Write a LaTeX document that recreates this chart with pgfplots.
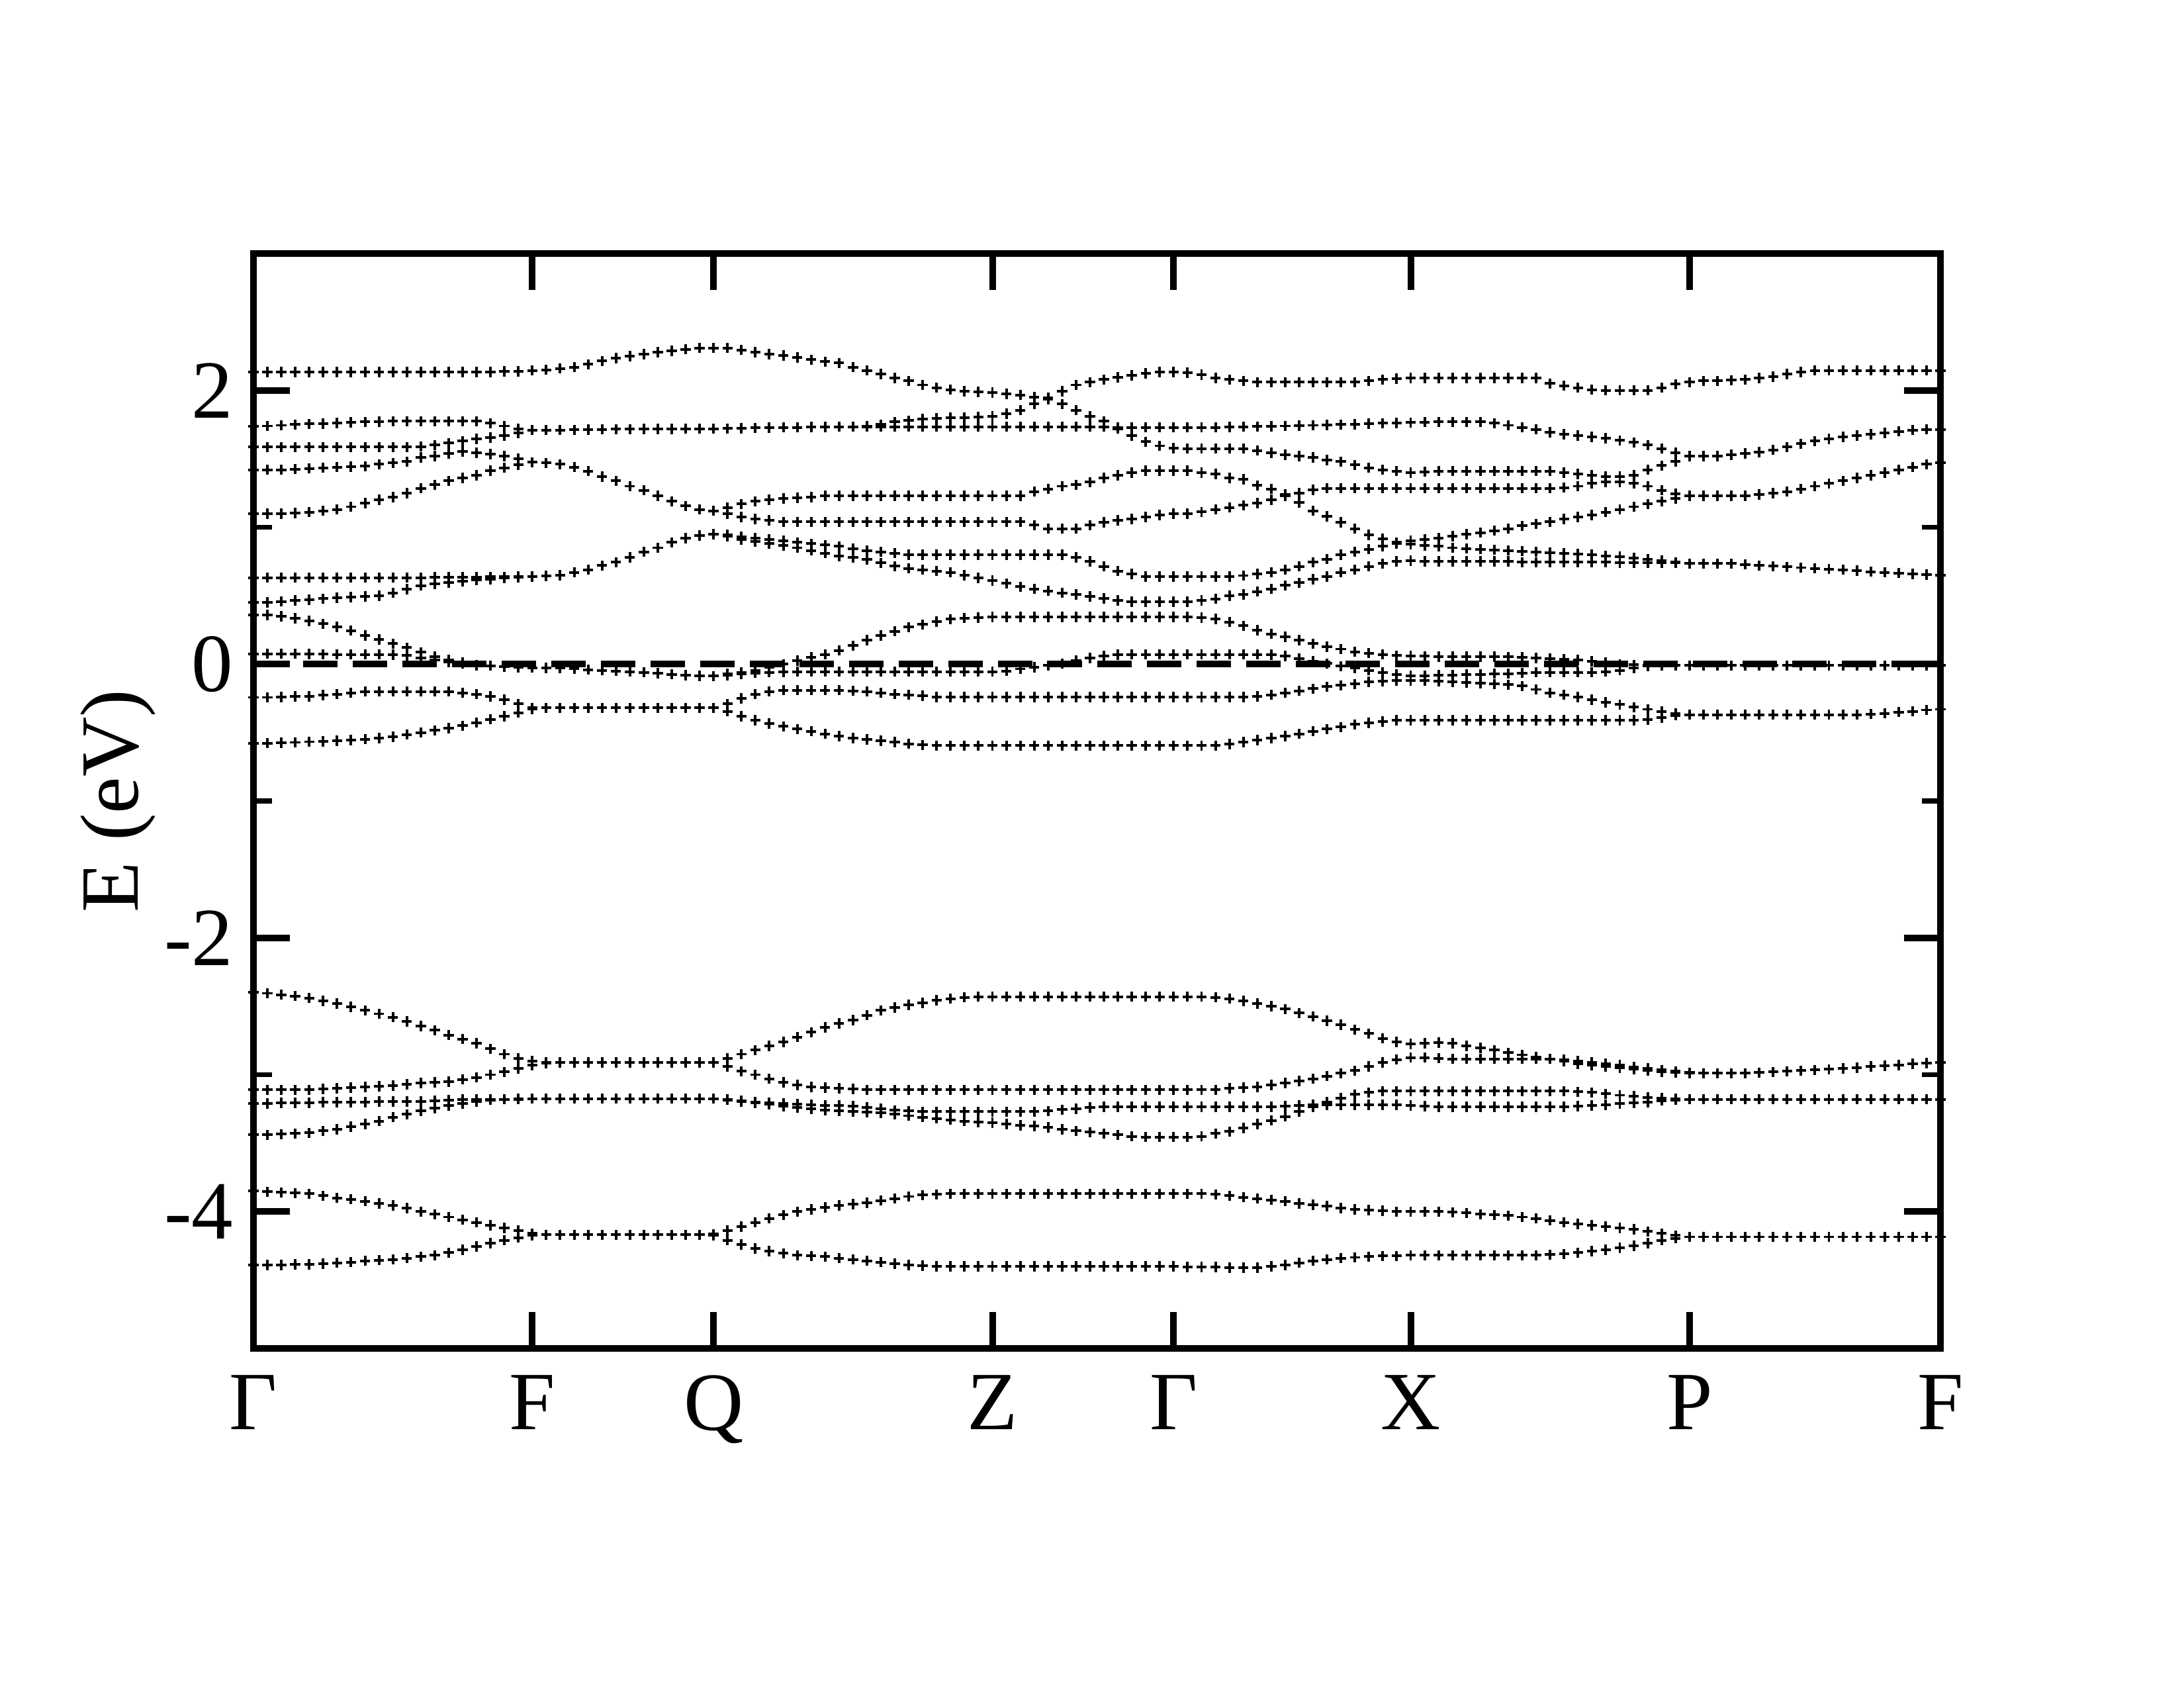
\documentclass[border=0pt]{standalone}
\usepackage{fontspec}
\setmainfont{Liberation Serif}
\usepackage{pgfplots}
\pgfplotsset{compat=1.18}
\newcommand{\bnd}[1]{\addplot[band] table[x expr=\coordindex, y index=0, header=false, row sep=\\] {#1};}
\begin{document}
\begin{tikzpicture}
\useasboundingbox (-91.92pt,-123.12pt) rectangle (700.08pt,488.88pt);
\begin{axis}[
  at={(0,0)}, anchor=south west,
  scale only axis, width=611.76pt, height=396.96pt,
  xmin=0, xmax=121, ymin=-5, ymax=3,
  xtick={0,20,33,53,66,83,103,121},
  xticklabels={Γ,F,Q,Z,Γ,X,P,F},
  ytick={-4,-2,0,2}, yticklabels={-4,-2,0,2},
  minor ytick={-3,-1,1},
  tick align=inside, tick pos=both,
  major tick length=13.2pt, minor tick length=6.7pt,
  every major tick/.append style={line width=2.4pt, black},
  every minor tick/.append style={line width=1.9pt, black},
  axis line style={line width=2.2pt},
  ticklabel style={font=\fontsize{30}{36}\selectfont},
  yticklabel style={inner xsep=0pt, xshift=-7.2pt},
  xticklabel style={inner ysep=0pt, yshift=-9.6pt},
  ylabel={E (eV)},
  ylabel style={font=\fontsize{30}{36}\selectfont, at={(axis description cs:-0.0801,0.5)}, anchor=center},
  band/.style={only marks, mark=+, mark size=1.85pt, line width=0.95pt, black},
]
% L1
\bnd{-4.39\\-4.39\\-4.39\\-4.385\\-4.385\\-4.38\\-4.375\\-4.37\\-4.36\\-4.355\\
-4.35\\-4.34\\-4.33\\-4.32\\-4.30\\-4.28\\-4.255\\-4.23\\-4.21\\-4.19\\
-4.175\\-4.17\\-4.17\\-4.17\\-4.17\\-4.17\\-4.17\\-4.17\\-4.17\\-4.17\\
-4.17\\-4.17\\-4.17\\-4.175\\-4.21\\-4.24\\-4.27\\-4.29\\-4.305\\-4.32\\
-4.325\\-4.33\\-4.34\\-4.35\\-4.36\\-4.37\\-4.38\\-4.39\\-4.395\\-4.40\\
-4.40\\-4.40\\-4.40\\-4.40\\-4.40\\-4.40\\-4.40\\-4.40\\-4.40\\-4.40\\
-4.40\\-4.40\\-4.40\\-4.40\\-4.40\\-4.40\\-4.40\\-4.405\\-4.405\\-4.405\\
-4.41\\-4.41\\-4.41\\-4.40\\-4.39\\-4.375\\-4.36\\-4.35\\-4.34\\-4.335\\
-4.33\\-4.325\\-4.325\\-4.32\\-4.32\\-4.32\\-4.32\\-4.32\\-4.32\\-4.32\\
-4.32\\-4.32\\-4.32\\-4.315\\-4.31\\-4.30\\-4.29\\-4.28\\-4.265\\-4.25\\
-4.23\\-4.21\\-4.195\\-4.185\\-4.185\\-4.185\\-4.185\\-4.185\\-4.185\\-4.185\\
-4.185\\-4.185\\-4.185\\-4.185\\-4.185\\-4.185\\-4.185\\-4.185\\-4.185\\-4.185\\
-4.185\\-4.185\\}
% L2
\bnd{-3.85\\-3.855\\-3.86\\-3.865\\-3.87\\-3.885\\-3.90\\-3.91\\-3.925\\-3.94\\
-3.955\\-3.975\\-4.00\\-4.02\\-4.04\\-4.06\\-4.08\\-4.10\\-4.12\\-4.14\\
-4.16\\-4.17\\-4.17\\-4.17\\-4.17\\-4.17\\-4.17\\-4.17\\-4.17\\-4.17\\
-4.17\\-4.17\\-4.17\\-4.165\\-4.14\\-4.11\\-4.08\\-4.05\\-4.025\\-4.00\\
-3.985\\-3.97\\-3.955\\-3.945\\-3.935\\-3.92\\-3.905\\-3.89\\-3.88\\-3.875\\
-3.87\\-3.87\\-3.87\\-3.87\\-3.87\\-3.87\\-3.87\\-3.87\\-3.87\\-3.87\\
-3.87\\-3.87\\-3.87\\-3.87\\-3.87\\-3.87\\-3.87\\-3.87\\-3.87\\-3.875\\
-3.885\\-3.895\\-3.905\\-3.915\\-3.925\\-3.94\\-3.95\\-3.96\\-3.975\\-3.985\\
-3.99\\-3.995\\-4.00\\-4.00\\-4.00\\-4.00\\-4.005\\-4.01\\-4.02\\-4.025\\
-4.03\\-4.04\\-4.05\\-4.065\\-4.08\\-4.09\\-4.10\\-4.11\\-4.12\\-4.13\\
-4.145\\-4.16\\-4.175\\-4.185\\-4.185\\-4.185\\-4.185\\-4.185\\-4.185\\-4.185\\
-4.185\\-4.185\\-4.185\\-4.185\\-4.185\\-4.185\\-4.185\\-4.185\\-4.185\\-4.185\\
-4.185\\-4.185\\}
% M1
\bnd{-3.44\\-3.44\\-3.435\\-3.43\\-3.425\\-3.41\\-3.40\\-3.38\\-3.36\\-3.34\\
-3.31\\-3.29\\-3.265\\-3.245\\-3.225\\-3.21\\-3.195\\-3.185\\-3.18\\-3.18\\
-3.175\\-3.175\\-3.175\\-3.175\\-3.175\\-3.175\\-3.175\\-3.175\\-3.175\\-3.175\\
-3.175\\-3.175\\-3.175\\-3.175\\-3.185\\-3.195\\-3.205\\-3.215\\-3.23\\-3.24\\
-3.25\\-3.26\\-3.265\\-3.27\\-3.275\\-3.28\\-3.29\\-3.30\\-3.31\\-3.32\\
-3.33\\-3.34\\-3.345\\-3.35\\-3.36\\-3.37\\-3.375\\-3.385\\-3.40\\-3.41\\
-3.42\\-3.43\\-3.44\\-3.45\\-3.455\\-3.455\\-3.455\\-3.455\\-3.45\\-3.43\\
-3.415\\-3.39\\-3.36\\-3.335\\-3.305\\-3.27\\-3.235\\-3.20\\-3.17\\-3.145\\
-3.13\\-3.12\\-3.12\\-3.12\\-3.12\\-3.12\\-3.12\\-3.12\\-3.12\\-3.12\\
-3.12\\-3.12\\-3.12\\-3.12\\-3.12\\-3.125\\-3.13\\-3.14\\-3.15\\-3.155\\
-3.165\\-3.17\\-3.175\\-3.18\\-3.18\\-3.18\\-3.18\\-3.18\\-3.18\\-3.18\\
-3.18\\-3.18\\-3.18\\-3.18\\-3.18\\-3.18\\-3.18\\-3.18\\-3.18\\-3.18\\
-3.18\\-3.18\\}
% M2
\bnd{-3.21\\-3.21\\-3.205\\-3.205\\-3.205\\-3.20\\-3.20\\-3.20\\-3.20\\-3.195\\
-3.195\\-3.195\\-3.195\\-3.19\\-3.185\\-3.18\\-3.18\\-3.18\\-3.18\\-3.175\\
-3.175\\-3.175\\-3.175\\-3.175\\-3.175\\-3.175\\-3.175\\-3.175\\-3.175\\-3.175\\
-3.175\\-3.175\\-3.175\\-3.175\\-3.18\\-3.19\\-3.20\\-3.205\\-3.21\\-3.215\\
-3.22\\-3.225\\-3.225\\-3.23\\-3.24\\-3.25\\-3.26\\-3.265\\-3.27\\-3.27\\
-3.27\\-3.27\\-3.27\\-3.27\\-3.27\\-3.27\\-3.27\\-3.265\\-3.255\\-3.25\\
-3.24\\-3.235\\-3.235\\-3.235\\-3.235\\-3.235\\-3.235\\-3.235\\-3.235\\-3.235\\
-3.235\\-3.235\\-3.235\\-3.235\\-3.23\\-3.225\\-3.22\\-3.22\\-3.22\\-3.22\\
-3.22\\-3.22\\-3.22\\-3.225\\-3.23\\-3.235\\-3.235\\-3.235\\-3.235\\-3.235\\
-3.235\\-3.235\\-3.235\\-3.235\\-3.235\\-3.23\\-3.225\\-3.22\\-3.21\\-3.205\\
-3.20\\-3.19\\-3.185\\-3.18\\-3.18\\-3.18\\-3.18\\-3.18\\-3.18\\-3.18\\
-3.18\\-3.18\\-3.18\\-3.18\\-3.18\\-3.18\\-3.18\\-3.18\\-3.18\\-3.18\\
-3.18\\-3.18\\}
% M3
\bnd{-3.11\\-3.11\\-3.11\\-3.11\\-3.11\\-3.105\\-3.10\\-3.095\\-3.09\\-3.085\\
-3.08\\-3.07\\-3.06\\-3.055\\-3.05\\-3.035\\-3.02\\-3.00\\-2.98\\-2.955\\
-2.93\\-2.915\\-2.91\\-2.91\\-2.91\\-2.91\\-2.91\\-2.91\\-2.91\\-2.91\\
-2.91\\-2.91\\-2.91\\-2.91\\-2.94\\-2.975\\-3.00\\-3.03\\-3.055\\-3.075\\
-3.09\\-3.095\\-3.10\\-3.105\\-3.11\\-3.11\\-3.11\\-3.11\\-3.11\\-3.11\\
-3.11\\-3.11\\-3.11\\-3.11\\-3.11\\-3.11\\-3.11\\-3.11\\-3.11\\-3.11\\
-3.11\\-3.11\\-3.11\\-3.11\\-3.11\\-3.11\\-3.11\\-3.11\\-3.11\\-3.11\\
-3.10\\-3.095\\-3.09\\-3.075\\-3.06\\-3.045\\-3.03\\-3.01\\-2.99\\-2.97\\
-2.94\\-2.91\\-2.89\\-2.875\\-2.875\\-2.88\\-2.885\\-2.885\\-2.885\\-2.885\\
-2.885\\-2.885\\-2.885\\-2.885\\-2.89\\-2.90\\-2.91\\-2.92\\-2.93\\-2.945\\
-2.955\\-2.965\\-2.975\\-2.985\\-2.99\\-2.99\\-2.99\\-2.99\\-2.985\\-2.98\\
-2.975\\-2.97\\-2.965\\-2.96\\-2.955\\-2.95\\-2.94\\-2.935\\-2.93\\-2.92\\
-2.915\\-2.91\\}
% M4
\bnd{-2.40\\-2.405\\-2.415\\-2.425\\-2.44\\-2.46\\-2.48\\-2.505\\-2.53\\-2.555\\
-2.58\\-2.61\\-2.645\\-2.675\\-2.71\\-2.74\\-2.77\\-2.81\\-2.85\\-2.88\\
-2.90\\-2.91\\-2.91\\-2.91\\-2.91\\-2.91\\-2.91\\-2.91\\-2.91\\-2.91\\
-2.91\\-2.91\\-2.91\\-2.91\\-2.88\\-2.85\\-2.82\\-2.79\\-2.76\\-2.725\\
-2.69\\-2.655\\-2.625\\-2.60\\-2.565\\-2.53\\-2.51\\-2.49\\-2.475\\-2.455\\
-2.445\\-2.435\\-2.43\\-2.43\\-2.43\\-2.43\\-2.43\\-2.43\\-2.43\\-2.43\\
-2.43\\-2.43\\-2.43\\-2.43\\-2.43\\-2.43\\-2.43\\-2.43\\-2.43\\-2.435\\
-2.445\\-2.46\\-2.48\\-2.50\\-2.52\\-2.55\\-2.575\\-2.605\\-2.635\\-2.67\\
-2.70\\-2.735\\-2.76\\-2.775\\-2.77\\-2.765\\-2.77\\-2.79\\-2.805\\-2.82\\
-2.84\\-2.855\\-2.87\\-2.885\\-2.90\\-2.92\\-2.93\\-2.94\\-2.95\\-2.96\\
-2.97\\-2.98\\-2.985\\-2.99\\-2.99\\-2.99\\-2.99\\-2.99\\-2.985\\-2.98\\
-2.975\\-2.97\\-2.965\\-2.96\\-2.955\\-2.95\\-2.94\\-2.935\\-2.93\\-2.92\\
-2.915\\-2.91\\}
% j
\bnd{-0.58\\-0.577\\-0.575\\-0.572\\-0.567\\-0.564\\-0.56\\-0.556\\-0.548\\-0.54\\
-0.53\\-0.515\\-0.50\\-0.484\\-0.468\\-0.45\\-0.428\\-0.403\\-0.38\\-0.355\\
-0.33\\-0.32\\-0.32\\-0.32\\-0.32\\-0.32\\-0.32\\-0.32\\-0.32\\-0.32\\
-0.32\\-0.32\\-0.32\\-0.32\\-0.345\\-0.38\\-0.41\\-0.435\\-0.455\\-0.475\\
-0.49\\-0.51\\-0.525\\-0.54\\-0.55\\-0.56\\-0.57\\-0.583\\-0.59\\-0.595\\
-0.595\\-0.595\\-0.595\\-0.595\\-0.595\\-0.595\\-0.595\\-0.595\\-0.595\\-0.595\\
-0.595\\-0.595\\-0.595\\-0.595\\-0.595\\-0.595\\-0.595\\-0.595\\-0.595\\-0.595\\
-0.585\\-0.57\\-0.556\\-0.54\\-0.525\\-0.51\\-0.49\\-0.475\\-0.46\\-0.44\\
-0.43\\-0.42\\-0.41\\-0.41\\-0.41\\-0.41\\-0.41\\-0.41\\-0.41\\-0.41\\
-0.41\\-0.41\\-0.41\\-0.41\\-0.41\\-0.41\\-0.41\\-0.41\\-0.41\\-0.41\\
-0.405\\-0.39\\-0.375\\-0.37\\-0.37\\-0.37\\-0.37\\-0.37\\-0.37\\-0.37\\
-0.37\\-0.37\\-0.37\\-0.37\\-0.37\\-0.37\\-0.365\\-0.36\\-0.35\\-0.345\\
-0.335\\-0.33\\}
% i
\bnd{-0.243\\-0.243\\-0.24\\-0.235\\-0.235\\-0.227\\-0.22\\-0.21\\-0.20\\-0.20\\
-0.20\\-0.20\\-0.20\\-0.20\\-0.20\\-0.21\\-0.22\\-0.235\\-0.26\\-0.29\\
-0.32\\-0.32\\-0.32\\-0.32\\-0.32\\-0.32\\-0.32\\-0.32\\-0.32\\-0.32\\
-0.32\\-0.32\\-0.32\\-0.32\\-0.29\\-0.25\\-0.22\\-0.20\\-0.19\\-0.19\\
-0.19\\-0.19\\-0.19\\-0.195\\-0.20\\-0.21\\-0.22\\-0.225\\-0.23\\-0.24\\
-0.24\\-0.24\\-0.24\\-0.24\\-0.24\\-0.24\\-0.24\\-0.24\\-0.24\\-0.24\\
-0.24\\-0.24\\-0.24\\-0.24\\-0.24\\-0.24\\-0.24\\-0.24\\-0.24\\-0.24\\
-0.24\\-0.24\\-0.235\\-0.225\\-0.21\\-0.195\\-0.18\\-0.165\\-0.155\\-0.146\\
-0.13\\-0.125\\-0.12\\-0.12\\-0.12\\-0.125\\-0.13\\-0.135\\-0.14\\-0.145\\
-0.15\\-0.16\\-0.185\\-0.21\\-0.225\\-0.24\\-0.26\\-0.28\\-0.295\\-0.315\\
-0.33\\-0.345\\-0.36\\-0.37\\-0.37\\-0.37\\-0.37\\-0.37\\-0.37\\-0.37\\
-0.37\\-0.37\\-0.37\\-0.37\\-0.37\\-0.37\\-0.365\\-0.36\\-0.35\\-0.345\\
-0.335\\-0.33\\}
% h
\bnd{0.075\\0.075\\0.075\\0.075\\0.073\\0.072\\0.071\\0.07\\0.07\\0.07\\
0.068\\0.062\\0.045\\0.03\\0.015\\0.005\\-0.008\\-0.012\\-0.016\\-0.02\\
-0.026\\-0.028\\-0.03\\-0.034\\-0.04\\-0.045\\-0.05\\-0.055\\-0.06\\-0.067\\
-0.075\\-0.08\\-0.085\\-0.088\\-0.08\\-0.072\\-0.065\\-0.06\\-0.057\\-0.055\\
-0.055\\-0.055\\-0.055\\-0.055\\-0.055\\-0.055\\-0.055\\-0.055\\-0.055\\-0.055\\
-0.055\\-0.055\\-0.055\\-0.055\\-0.05\\-0.035\\-0.022\\-0.01\\0.005\\0.025\\
0.045\\0.06\\0.068\\0.07\\0.07\\0.07\\0.07\\0.07\\0.07\\0.07\\
0.07\\0.07\\0.07\\0.068\\0.06\\0.04\\0.02\\0.005\\-0.015\\-0.03\\
-0.045\\-0.06\\-0.075\\-0.085\\-0.085\\-0.08\\-0.08\\-0.075\\-0.075\\-0.07\\
-0.07\\-0.065\\-0.06\\-0.06\\-0.06\\-0.06\\-0.06\\-0.055\\-0.045\\-0.03\\
-0.015\\-0.01\\-0.01\\-0.01\\-0.01\\-0.01\\-0.01\\-0.01\\-0.01\\-0.01\\
-0.01\\-0.01\\-0.01\\-0.01\\-0.01\\-0.01\\-0.01\\-0.01\\-0.01\\-0.01\\
-0.01\\-0.01\\}
% g
\bnd{0.36\\0.36\\0.35\\0.335\\0.315\\0.295\\0.272\\0.245\\0.21\\0.18\\
0.15\\0.12\\0.087\\0.055\\0.03\\0.01\\-0.005\\-0.012\\-0.018\\-0.022\\
-0.026\\-0.028\\-0.03\\-0.034\\-0.04\\-0.045\\-0.05\\-0.055\\-0.06\\-0.067\\
-0.075\\-0.08\\-0.085\\-0.088\\-0.07\\-0.06\\-0.045\\-0.025\\0.0\\0.025\\
0.05\\0.07\\0.10\\0.135\\0.175\\0.21\\0.24\\0.27\\0.29\\0.31\\
0.328\\0.336\\0.34\\0.345\\0.345\\0.345\\0.345\\0.345\\0.345\\0.345\\
0.345\\0.345\\0.345\\0.345\\0.345\\0.345\\0.345\\0.345\\0.34\\0.33\\
0.307\\0.28\\0.247\\0.22\\0.20\\0.175\\0.15\\0.127\\0.11\\0.09\\
0.08\\0.07\\0.063\\0.06\\0.057\\0.055\\0.055\\0.055\\0.055\\0.055\\
0.053\\0.05\\0.045\\0.04\\0.035\\0.03\\0.02\\0.01\\0.0\\-0.005\\
-0.01\\-0.01\\-0.01\\-0.01\\-0.01\\-0.01\\-0.01\\-0.01\\-0.01\\-0.01\\
-0.01\\-0.01\\-0.01\\-0.01\\-0.01\\-0.01\\-0.01\\-0.01\\-0.01\\-0.01\\
-0.01\\-0.01\\}
% f
\bnd{0.45\\0.452\\0.458\\0.465\\0.47\\0.478\\0.485\\0.49\\0.495\\0.50\\
0.52\\0.548\\0.574\\0.585\\0.595\\0.605\\0.615\\0.62\\0.628\\0.635\\
0.64\\0.645\\0.65\\0.67\\0.69\\0.72\\0.745\\0.78\\0.82\\0.85\\
0.89\\0.92\\0.94\\0.95\\0.935\\0.91\\0.895\\0.88\\0.865\\0.85\\
0.83\\0.81\\0.79\\0.78\\0.765\\0.74\\0.715\\0.70\\0.69\\0.68\\
0.67\\0.65\\0.63\\0.61\\0.59\\0.565\\0.55\\0.535\\0.52\\0.51\\
0.495\\0.48\\0.466\\0.456\\0.456\\0.456\\0.456\\0.456\\0.466\\0.477\\
0.50\\0.51\\0.53\\0.55\\0.575\\0.595\\0.62\\0.64\\0.67\\0.69\\
0.714\\0.735\\0.75\\0.755\\0.75\\0.75\\0.75\\0.75\\0.75\\0.75\\
0.75\\0.745\\0.745\\0.745\\0.745\\0.745\\0.745\\0.745\\0.74\\0.74\\
0.74\\0.74\\0.74\\0.735\\0.735\\0.735\\0.735\\0.728\\0.72\\0.715\\
0.71\\0.705\\0.70\\0.695\\0.69\\0.683\\0.675\\0.67\\0.665\\0.66\\
0.655\\0.65\\}
% e
\bnd{0.632\\0.632\\0.632\\0.632\\0.632\\0.632\\0.632\\0.632\\0.632\\0.632\\
0.632\\0.632\\0.632\\0.634\\0.635\\0.636\\0.637\\0.638\\0.638\\0.64\\
0.64\\0.645\\0.65\\0.67\\0.69\\0.72\\0.745\\0.78\\0.82\\0.85\\
0.89\\0.92\\0.94\\0.95\\0.945\\0.93\\0.92\\0.91\\0.90\\0.89\\
0.88\\0.87\\0.86\\0.845\\0.83\\0.82\\0.81\\0.80\\0.80\\0.80\\
0.80\\0.80\\0.80\\0.80\\0.80\\0.80\\0.80\\0.80\\0.80\\0.78\\
0.75\\0.714\\0.68\\0.66\\0.64\\0.64\\0.64\\0.64\\0.64\\0.64\\
0.64\\0.647\\0.66\\0.67\\0.69\\0.714\\0.745\\0.767\\0.80\\0.82\\
0.84\\0.86\\0.88\\0.90\\0.91\\0.92\\0.935\\0.95\\0.96\\0.975\\
0.99\\1.01\\1.025\\1.04\\1.06\\1.075\\1.09\\1.11\\1.13\\1.15\\
1.17\\1.19\\1.21\\1.23\\1.23\\1.23\\1.23\\1.23\\1.24\\1.25\\
1.26\\1.28\\1.30\\1.32\\1.34\\1.36\\1.38\\1.40\\1.42\\1.44\\
1.46\\1.47\\}
% d
\bnd{1.10\\1.10\\1.10\\1.105\\1.11\\1.12\\1.13\\1.15\\1.176\\1.20\\
1.22\\1.25\\1.285\\1.31\\1.34\\1.36\\1.38\\1.413\\1.435\\1.456\\
1.475\\1.47\\1.46\\1.44\\1.41\\1.37\\1.34\\1.30\\1.27\\1.23\\
1.19\\1.155\\1.13\\1.12\\1.10\\1.075\\1.06\\1.05\\1.04\\1.04\\
1.04\\1.04\\1.04\\1.04\\1.04\\1.04\\1.04\\1.04\\1.04\\1.04\\
1.04\\1.04\\1.04\\1.04\\1.04\\1.04\\1.015\\0.99\\0.99\\0.99\\
1.015\\1.037\\1.05\\1.06\\1.075\\1.09\\1.10\\1.10\\1.112\\1.13\\
1.145\\1.16\\1.177\\1.20\\1.23\\1.25\\1.274\\1.285\\1.285\\1.285\\
1.285\\1.285\\1.285\\1.285\\1.285\\1.285\\1.285\\1.285\\1.285\\1.285\\
1.285\\1.285\\1.285\\1.285\\1.29\\1.30\\1.32\\1.33\\1.33\\1.32\\
1.30\\1.27\\1.245\\1.23\\1.23\\1.23\\1.23\\1.23\\1.24\\1.25\\
1.26\\1.28\\1.30\\1.32\\1.34\\1.36\\1.38\\1.40\\1.42\\1.44\\
1.46\\1.47\\}
% c
\bnd{1.42\\1.42\\1.42\\1.425\\1.43\\1.435\\1.44\\1.443\\1.446\\1.46\\
1.47\\1.48\\1.51\\1.52\\1.54\\1.553\\1.545\\1.535\\1.52\\1.50\\
1.475\\1.47\\1.46\\1.44\\1.41\\1.37\\1.34\\1.30\\1.27\\1.23\\
1.19\\1.155\\1.13\\1.12\\1.145\\1.17\\1.19\\1.20\\1.21\\1.215\\
1.22\\1.23\\1.23\\1.23\\1.23\\1.23\\1.23\\1.23\\1.23\\1.23\\
1.23\\1.23\\1.23\\1.23\\1.23\\1.23\\1.26\\1.28\\1.30\\1.31\\
1.33\\1.36\\1.38\\1.40\\1.413\\1.413\\1.413\\1.413\\1.40\\1.39\\
1.36\\1.35\\1.306\\1.28\\1.24\\1.18\\1.12\\1.08\\1.037\\0.99\\
0.945\\0.915\\0.89\\0.875\\0.865\\0.86\\0.85\\0.845\\0.84\\0.835\\
0.83\\0.825\\0.82\\0.815\\0.81\\0.805\\0.80\\0.79\\0.785\\0.775\\
0.765\\0.755\\0.745\\0.735\\0.735\\0.735\\0.735\\0.728\\0.72\\0.715\\
0.71\\0.705\\0.70\\0.695\\0.69\\0.683\\0.675\\0.67\\0.665\\0.66\\
0.655\\0.65\\}
% a
\bnd{1.736\\1.74\\1.745\\1.75\\1.755\\1.758\\1.762\\1.766\\1.77\\1.772\\
1.775\\1.775\\1.775\\1.775\\1.775\\1.775\\1.775\\1.76\\1.74\\1.72\\
1.71\\1.71\\1.71\\1.712\\1.714\\1.715\\1.716\\1.717\\1.718\\1.718\\
1.719\\1.72\\1.72\\1.72\\1.722\\1.724\\1.726\\1.728\\1.73\\1.73\\
1.732\\1.733\\1.734\\1.735\\1.735\\1.735\\1.735\\1.735\\1.735\\1.735\\
1.735\\1.735\\1.735\\1.735\\1.735\\1.735\\1.735\\1.735\\1.735\\1.735\\
1.735\\1.735\\1.73\\1.73\\1.73\\1.73\\1.73\\1.73\\1.73\\1.73\\
1.732\\1.734\\1.736\\1.738\\1.74\\1.742\\1.745\\1.748\\1.75\\1.753\\
1.756\\1.76\\1.762\\1.765\\1.768\\1.77\\1.77\\1.77\\1.77\\1.76\\
1.745\\1.73\\1.715\\1.695\\1.68\\1.67\\1.66\\1.65\\1.635\\1.62\\
1.60\\1.575\\1.545\\1.52\\1.52\\1.52\\1.53\\1.54\\1.55\\1.565\\
1.586\\1.61\\1.63\\1.645\\1.66\\1.67\\1.68\\1.69\\1.70\\1.71\\
1.715\\1.715\\}
% b
\bnd{1.586\\1.586\\1.586\\1.586\\1.586\\1.586\\1.586\\1.586\\1.586\\1.586\\
1.586\\1.586\\1.59\\1.60\\1.615\\1.63\\1.645\\1.655\\1.67\\1.69\\
1.71\\1.71\\1.71\\1.712\\1.714\\1.715\\1.716\\1.717\\1.718\\1.718\\
1.719\\1.72\\1.72\\1.72\\1.722\\1.724\\1.726\\1.728\\1.73\\1.73\\
1.732\\1.733\\1.734\\1.735\\1.74\\1.75\\1.77\\1.78\\1.79\\1.795\\
1.80\\1.80\\1.805\\1.81\\1.83\\1.855\\1.90\\1.945\\1.995\\2.04\\
2.06\\2.08\\2.095\\2.11\\2.125\\2.135\\2.135\\2.13\\2.115\\2.09\\
2.08\\2.07\\2.06\\2.06\\2.06\\2.06\\2.06\\2.06\\2.06\\2.06\\
2.07\\2.08\\2.085\\2.09\\2.09\\2.09\\2.09\\2.09\\2.09\\2.09\\
2.09\\2.09\\2.09\\2.05\\2.035\\2.02\\2.005\\2.0\\2.0\\2.0\\
2.0\\2.02\\2.045\\2.06\\2.07\\2.07\\2.075\\2.08\\2.09\\2.10\\
2.12\\2.135\\2.145\\2.145\\2.145\\2.145\\2.145\\2.145\\2.145\\2.145\\
2.145\\2.145\\}
% T
\bnd{2.135\\2.135\\2.135\\2.135\\2.135\\2.135\\2.135\\2.135\\2.135\\2.135\\
2.135\\2.135\\2.135\\2.135\\2.135\\2.135\\2.135\\2.135\\2.14\\2.14\\
2.145\\2.15\\2.16\\2.17\\2.19\\2.215\\2.235\\2.25\\2.265\\2.28\\
2.29\\2.30\\2.31\\2.31\\2.31\\2.295\\2.28\\2.265\\2.255\\2.24\\
2.225\\2.21\\2.20\\2.17\\2.145\\2.12\\2.09\\2.07\\2.04\\2.02\\
2.005\\1.995\\1.99\\1.984\\1.975\\1.967\\1.95\\1.935\\1.90\\1.855\\
1.81\\1.775\\1.72\\1.67\\1.625\\1.595\\1.578\\1.575\\1.575\\1.575\\
1.575\\1.575\\1.56\\1.545\\1.53\\1.52\\1.51\\1.49\\1.48\\1.456\\
1.435\\1.42\\1.41\\1.40\\1.405\\1.41\\1.41\\1.41\\1.41\\1.41\\
1.41\\1.41\\1.41\\1.41\\1.40\\1.39\\1.38\\1.37\\1.37\\1.38\\
1.42\\1.45\\1.48\\1.52\\1.52\\1.52\\1.53\\1.54\\1.55\\1.565\\
1.586\\1.61\\1.63\\1.645\\1.66\\1.67\\1.68\\1.69\\1.70\\1.71\\
1.715\\1.715\\}
% Fermi level
\addplot[black, line width=2.4pt, dash pattern=on 12.5pt off 5.5pt] coordinates {(0,0) (121,0)};
\end{axis}
\end{tikzpicture}
\end{document}
